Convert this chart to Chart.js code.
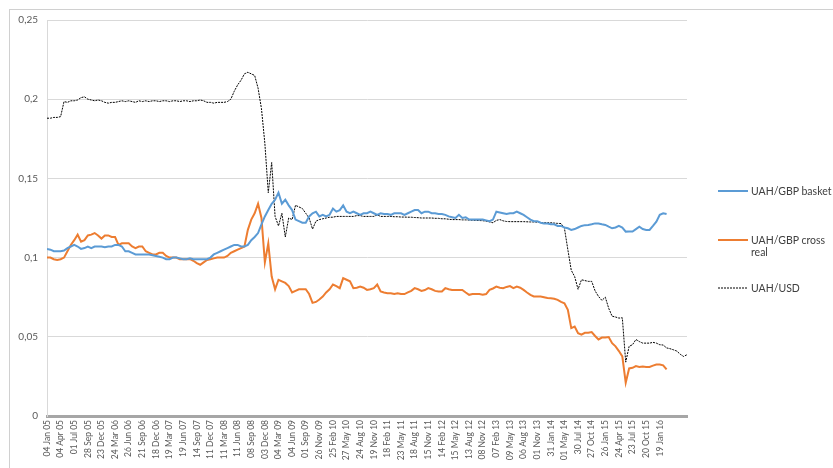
<!DOCTYPE html>
<html>
<head>
<meta charset="utf-8">
<script src="https://cdn.jsdelivr.net/npm/chart.js@4/dist/chart.umd.min.js"></script>
<style>
  body { margin: 0; background: #fff; }
  #wrap { position: relative; width: 833px; height: 468px; }
  #frame { position: absolute; left: 9px; top: 9px; right: 0; bottom: 0;
    border-top: 1px solid #d0d0d0; border-left: 1px solid #d0d0d0; }
  #legend { position: absolute; left: 718px; top: 0; font-family: Lato, "Open Sans", sans-serif;
    font-size: 10.5px; color: #404040; }
  .item { position: absolute; left: 0; width: 115px; display: flex; align-items: flex-start; }
  .item svg { flex: none; margin-top: 4px; margin-right: 3px; }
  .item span { line-height: 12px; width: 82px; }
</style>
</head>
<body>
<div id="wrap">
  <div id="frame"></div>
  <canvas id="chart"></canvas>
  <div id="legend"></div>
</div>
<script>
// quarterly tick labels (one every ~63 trading days)
const tickLabels = ['04 Jan 05', '04 Apr 05', '01 Jul 05', '28 Sep 05', '23 Dec 05', '24 Mar 06',
  '26 Jun 06', '21 Sep 06', '18 Dec 06', '19 Mar 07', '19 Jun 07', '14 Sep 07', '11 Dec 07',
  '11 Mar 08', '11 Jun 08', '08 Sep 08', '03 Dec 08', '04 Mar 09', '04 Jun 09', '01 Sep 09',
  '26 Nov 09', '25 Feb 10', '27 May 10', '24 Aug 10', '19 Nov 10', '18 Feb 11', '23 May 11',
  '18 Aug 11', '15 Nov 11', '14 Feb 12', '15 May 12', '13 Aug 12', '08 Nov 12', '07 Feb 13',
  '09 May 13', '06 Aug 13', '01 Nov 13', '31 Jan 14', '01 May 14', '30 Jul 14', '27 Oct 14',
  '26 Jan 15', '24 Apr 15', '23 Jul 15', '20 Oct 15', '19 Jan 16'];
const yTickLabels = ['0', '0,05', '0,1', '0,15', '0,2', '0,25'];
const seriesNames = ['UAH/GBP basket', 'UAH/GBP cross real', 'UAH/USD'];

// 4 readings per label interval
const xStep = 0.25;

const basket = [
  0.1055, 0.105, 0.104, 0.104,
  0.104, 0.1045, 0.106, 0.107,
  0.108, 0.107, 0.1055, 0.106,
  0.107, 0.106, 0.107, 0.107,
  0.107, 0.1065, 0.107, 0.107,
  0.108, 0.108, 0.107, 0.104,
  0.104, 0.103, 0.102, 0.102,
  0.102, 0.102, 0.102, 0.1015,
  0.101, 0.1005, 0.1, 0.099,
  0.099, 0.1, 0.1, 0.0995,
  0.099, 0.099, 0.0995, 0.099,
  0.099, 0.099, 0.099, 0.099,
  0.1, 0.102, 0.103, 0.104,
  0.105, 0.106, 0.107, 0.108,
  0.108, 0.107, 0.107, 0.108,
  0.111, 0.113, 0.1155, 0.121,
  0.126, 0.13, 0.134, 0.1365,
  0.141, 0.134, 0.1365, 0.133,
  0.13, 0.124, 0.123, 0.122,
  0.122, 0.126, 0.128, 0.129,
  0.126, 0.127, 0.126, 0.127,
  0.131, 0.129, 0.13, 0.133,
  0.129, 0.128, 0.129, 0.128,
  0.127, 0.128, 0.128, 0.129,
  0.128, 0.127, 0.128, 0.1275,
  0.1275, 0.127, 0.128, 0.128,
  0.128, 0.127, 0.128, 0.129,
  0.13, 0.13, 0.128, 0.129,
  0.129, 0.128, 0.128, 0.1275,
  0.1275, 0.127, 0.126, 0.1255,
  0.125, 0.127, 0.125, 0.1255,
  0.124, 0.124, 0.124, 0.124,
  0.124, 0.1235, 0.123, 0.124,
  0.129, 0.1285, 0.128, 0.1275,
  0.128, 0.128, 0.129, 0.128,
  0.127, 0.1255, 0.124, 0.123,
  0.123, 0.122, 0.1216, 0.1215,
  0.121, 0.121, 0.12, 0.12,
  0.119, 0.1185, 0.1175, 0.118,
  0.119, 0.12, 0.1205, 0.1206,
  0.121, 0.1216, 0.1215, 0.121,
  0.1206, 0.1195, 0.1185, 0.119,
  0.12, 0.119, 0.1164, 0.1165,
  0.1165, 0.118, 0.1195, 0.118,
  0.1175, 0.1175, 0.12, 0.1227,
  0.127, 0.128, 0.1275
];

const crossReal = [
  0.1, 0.1, 0.099, 0.0985,
  0.099, 0.1, 0.104, 0.108,
  0.111, 0.1145, 0.11, 0.111,
  0.114, 0.1145, 0.1155, 0.114,
  0.112, 0.114, 0.114, 0.113,
  0.113, 0.108, 0.109, 0.109,
  0.109, 0.107, 0.106, 0.107,
  0.107, 0.104, 0.103, 0.102,
  0.102, 0.103, 0.103, 0.101,
  0.1, 0.1, 0.1, 0.099,
  0.099, 0.099, 0.099, 0.098,
  0.0965, 0.0955, 0.097, 0.0985,
  0.099, 0.0995, 0.1, 0.1,
  0.1, 0.101, 0.103, 0.104,
  0.105, 0.106, 0.107, 0.1175,
  0.124, 0.128, 0.134, 0.125,
  0.097, 0.109, 0.088, 0.08,
  0.086, 0.085, 0.084, 0.082,
  0.078, 0.079, 0.08, 0.08,
  0.08, 0.077, 0.0714, 0.072,
  0.0735, 0.0754, 0.078, 0.08,
  0.083, 0.082, 0.0807, 0.087,
  0.086, 0.085, 0.0807, 0.081,
  0.0817, 0.081, 0.0796, 0.08,
  0.0807, 0.083, 0.0786, 0.078,
  0.0775, 0.0775, 0.077, 0.0775,
  0.077, 0.077, 0.078, 0.079,
  0.0807, 0.08, 0.079, 0.0795,
  0.0807, 0.08, 0.079, 0.0786,
  0.0786, 0.0807, 0.08, 0.0796,
  0.0796, 0.0796, 0.0796, 0.078,
  0.0765, 0.077, 0.077, 0.077,
  0.0765, 0.077, 0.0796, 0.0805,
  0.0817, 0.081, 0.0807, 0.0815,
  0.082, 0.0807, 0.0817, 0.081,
  0.0796, 0.078, 0.0765, 0.0755,
  0.0754, 0.0754, 0.075, 0.0745,
  0.0744, 0.074, 0.0733, 0.072,
  0.0712, 0.067, 0.0555, 0.0565,
  0.0523, 0.0513, 0.0525, 0.0525,
  0.053, 0.0505, 0.0483, 0.0495,
  0.0495, 0.0498, 0.046, 0.044,
  0.041, 0.0376, 0.021, 0.03,
  0.0304, 0.0315, 0.031, 0.0312,
  0.031, 0.031, 0.0318, 0.0325,
  0.0325, 0.032, 0.0294
];

const usd = [
  0.188, 0.188, 0.1885, 0.1885,
  0.189, 0.1985, 0.198, 0.199,
  0.199, 0.1995, 0.201, 0.2015,
  0.2, 0.1995, 0.199, 0.1995,
  0.199, 0.198, 0.1975, 0.198,
  0.198, 0.1985, 0.199, 0.1985,
  0.199, 0.1985, 0.198, 0.199,
  0.1985, 0.199, 0.1985, 0.199,
  0.199, 0.1985, 0.199, 0.199,
  0.1985, 0.199, 0.199, 0.1985,
  0.199, 0.199, 0.1985, 0.199,
  0.199, 0.1995, 0.199, 0.198,
  0.198, 0.1975, 0.198, 0.198,
  0.198, 0.1985, 0.2, 0.205,
  0.209, 0.212, 0.216, 0.217,
  0.216, 0.215, 0.207, 0.194,
  0.172, 0.141, 0.16, 0.126,
  0.12, 0.128, 0.113, 0.125,
  0.124, 0.133, 0.132, 0.131,
  0.128, 0.125, 0.118, 0.123,
  0.124, 0.1245, 0.125, 0.1255,
  0.1255, 0.126, 0.126, 0.126,
  0.126, 0.126, 0.126, 0.1265,
  0.1265, 0.126, 0.126, 0.126,
  0.126, 0.127, 0.126, 0.126,
  0.126, 0.126, 0.1258, 0.1258,
  0.1256, 0.1256, 0.1255, 0.1255,
  0.1253, 0.1252, 0.125, 0.125,
  0.125, 0.125, 0.1248, 0.1248,
  0.1245, 0.1245, 0.1242, 0.124,
  0.124, 0.124, 0.1238, 0.1238,
  0.1237, 0.1236, 0.1235, 0.1234,
  0.1233, 0.123, 0.1225, 0.122,
  0.1235, 0.124, 0.1232, 0.1228,
  0.1227, 0.1227, 0.1227, 0.1227,
  0.1227, 0.1226, 0.1225, 0.1225,
  0.1224, 0.1222, 0.122, 0.122,
  0.122, 0.1218, 0.1216, 0.1215,
  0.1185, 0.105, 0.092, 0.088,
  0.08, 0.086, 0.0855, 0.085,
  0.085, 0.079, 0.0755, 0.073,
  0.075, 0.068, 0.063, 0.0625,
  0.0618, 0.062, 0.034, 0.044,
  0.045, 0.0483, 0.047, 0.046,
  0.046, 0.046, 0.0465, 0.046,
  0.045, 0.0448, 0.043, 0.0425,
  0.0418, 0.041, 0.039, 0.0376,
  0.0387
];

const colors = ['#5b9bd5', '#ed7d31', '#000000'];

function toPoints(vals) {
  return vals.map((v, i) => ({ x: i * xStep, y: v }));
}

const ctx = document.getElementById('chart').getContext('2d');
const chart = new Chart(ctx, {
  type: 'line',
  data: {
    datasets: [
      { label: seriesNames[0], data: toPoints(basket), borderColor: colors[0], borderWidth: 2 },
      { label: seriesNames[1], data: toPoints(crossReal), borderColor: colors[1], borderWidth: 2 },
      { label: seriesNames[2], data: toPoints(usd), borderColor: colors[2], borderWidth: 1, borderDash: [2, 1] }
    ]
  },
  options: {
    responsive: true,
    maintainAspectRatio: false,
    animation: false,
    elements: { point: { radius: 0 }, line: { tension: 0 } },
    layout: { padding: { left: 0, right: 146, top: 20, bottom: 0 } },
    plugins: { legend: { display: false }, tooltip: { enabled: false } },
    scales: {
      x: {
        type: 'linear',
        min: 0,
        max: 47,
        grid: { display: false, drawTicks: false },
        border: { color: '#a6a6a6', width: 3 },
        ticks: {
          stepSize: 1,
          autoSkip: false,
          minRotation: 90,
          maxRotation: 90,
          padding: 4,
          color: '#595959',
          font: { family: 'Lato', size: 8.5 },
          callback: (v) => tickLabels[v] || ''
        },
        afterFit: (scale) => { scale.height = 52; }
      },
      y: {
        min: 0,
        max: 0.25,
        grid: { color: '#d9d9d9', drawTicks: false },
        border: { color: '#d9d9d9', width: 1 },
        ticks: {
          stepSize: 0.05,
          padding: 9,
          color: '#595959',
          font: { family: 'Lato', size: 10 },
          callback: (v) => yTickLabels[Math.round(v / 0.05)]
        },
        afterFit: (scale) => { scale.width = 47; }
      }
    }
  }
});

// legend on the right, text wraps like the original
const legendTops = [185, 234, 282];
const legend = document.getElementById('legend');
seriesNames.forEach((name, i) => {
  const dash = i === 2 ? 'stroke-dasharray="2,1"' : '';
  const w = i === 2 ? 1 : 2;
  legend.innerHTML += '<div class="item" style="top:' + legendTops[i] + 'px">' +
    '<svg width="30" height="4"><line x1="0" y1="2" x2="30" y2="2" stroke="' + colors[i] +
    '" stroke-width="' + w + '" ' + dash + '/></svg><span>' + name + '</span></div>';
});
</script>
</body>
</html>
